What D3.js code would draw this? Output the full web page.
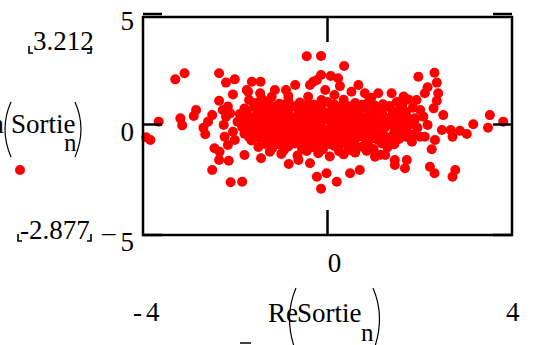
<!DOCTYPE html>
<html>
<head>
<meta charset="utf-8">
<script src="https://cdn.jsdelivr.net/npm/d3@7"></script>
<style>
body { margin: 0; background: #fff; }
</style>
</head>
<body>
<svg width="533" height="345" font-family="Liberation Serif"></svg>
<script>
// data: Re(Sortie_n) and Im(Sortie_n)
var reSortie = [
    -3.30, -3.10, -2.35, -2.20, -2.01, -2.05, -2.35, -3.66, -3.93, -3.84,
    -3.19, -3.15, -2.90, -2.85, -2.50, -2.59, -2.69, -2.65, -2.27, -2.16,
    -2.20, -2.25, -2.11, -2.23, -2.16, -2.05, -2.01, -2.45, -2.34, -2.35,
    -2.14, -2.50, -2.10, -1.85, -0.14, 0.20, -0.23, -0.02, -0.84, -1.44,
    -1.80, -0.45, -0.14, -1.64, -1.45, -0.70, -1.75, -1.70, -1.14, -0.90,
    -0.38, -0.23, -0.14, 0.07, -0.05, -1.43, -1.21, 0.36, 0.23, 0.27,
    0.67, 0.52, 0.81, 1.10, 1.39, 1.61, 1.97, 1.93, 2.32, 2.37,
    2.17, 2.11, 2.40, 2.37, 2.30, 2.01, 2.08, 2.17, 2.51, 3.52,
    3.48, 3.81, 3.16, 3.02, 2.87, 2.71, 2.67, 2.48, 2.33, 2.26,
    2.01, 2.11, 2.22, 2.32, 2.71, 2.77, -1.46, -1.72, -0.31, -0.42,
    -0.13, -1.25, -0.63, -0.38, 0.49, 0.70, 1.46, 1.72, 1.68, 1.46,
    1.03, 0.89, 1.25, 1.83,
    -1.55, -1.30, -1.05, -0.85, -0.60, -0.30, 0.00, 0.35, 0.60, 0.90, 1.20, 1.50, 1.75,
    -1.80, -1.60, -1.35, -1.15, -0.95, -0.70, -0.50, -0.25, 0.10, 0.30, 0.55, 0.80, 1.05, 1.30, 1.55, 1.85,
    -1.90, -1.70, -1.45, -1.25, -1.00, -0.80, -0.60, -0.40, -0.15, 0.05, 0.25, 0.45, 0.70, 0.95, 1.15, 1.40, 1.65, 1.90,
    -1.95, -1.75, -1.50, -1.30, -1.10, -0.90, -0.65, -0.45, -0.20, 0.00, 0.20, 0.40, 0.65, 0.85, 1.10, 1.35, 1.60, 1.80,
    -1.85, -1.60, -1.40, -1.20, -0.95, -0.75, -0.55, -0.30, -0.10, 0.15, 0.35, 0.55, 0.80, 1.00, 1.25, 1.50, 1.70, 1.95,
    -1.80, -1.55, -1.35, -1.10, -0.90, -0.70, -0.45, -0.25, 0.00, 0.25, 0.45, 0.70, 0.90, 1.15, 1.40, 1.60, 1.85,
    -1.65, -1.40, -1.20, -0.95, -0.75, -0.50, -0.30, -0.05, 0.20, 0.40, 0.60, 0.85, 1.10, 1.35, 1.55,
    -1.50, -1.20, -0.85, -0.55, -0.30, -0.10, 0.15, 0.45, 0.75, 1.00, 1.30,
    -1.00, -0.65, -0.20, 0.05, 0.35, 0.60, 1.15,
    -0.85, 0.15, 0.95, 1.65,
    -1.45, -1.20, -0.95, -0.72, -0.45, -0.15, 0.15, 0.45, 0.75, 1.02, 1.35, 1.62,
    -1.75, -1.52, -1.28, -1.08, -0.85, -0.62, -0.35, -0.08, 0.18, 0.40, 0.65, 0.90, 1.18, 1.42, 1.70,
    -1.82, -1.58, -1.38, -1.15, -0.92, -0.72, -0.52, -0.30, -0.05, 0.12, 0.32, 0.55, 0.78, 1.02, 1.25, 1.50, 1.75,
    -1.70, -1.48, -1.25, -1.02, -0.82, -0.60, -0.38, -0.15, 0.08, 0.28, 0.48, 0.72, 0.92, 1.18, 1.42, 1.62, 1.88,
    -1.72, -1.50, -1.28, -1.05, -0.82, -0.62, -0.40, -0.18, 0.08, 0.30, 0.52, 0.75, 0.98, 1.20, 1.45, 1.72,
    -1.70, -1.48, -1.25, -1.02, -0.80, -0.58, -0.35, -0.12, 0.12, 0.35, 0.55, 0.78, 1.00, 1.25, 1.48, 1.72,
    -1.35, -1.05, -0.70, -0.42, -0.18, 0.05, 0.30, 0.58, 0.88, 1.18, 1.45,
    -0.95, -0.45, -0.15, 0.25, 0.52, 0.85
];
var imSortie = [
    2.14, 2.42, 2.42, 1.99, 2.14, 1.45, 1.16, 0.20, -0.52, -0.64,
    0.35, 0.03, 0.46, 0.73, 0.50, 0.20, -0.08, -0.38, 0.73, 0.89,
    0.43, 0.05, 0.58, -0.49, -0.87, -0.26, -0.64, -1.02, -1.18, -1.56,
    -1.59, -2.02, -2.58, -2.56, -2.877, -2.56, -2.33, -2.17, -1.74, -1.48,
    -1.33, 3.20, 3.212, 2.03, 2.03, 1.88, 1.65, 1.19, 1.65, 1.65,
    1.88, 2.11, 2.34, 2.29, 1.65, 1.27, 1.34, 2.75, 2.19, 1.83,
    1.88, 1.57, 1.50, 1.50, 1.50, 1.04, 2.26, 1.19, 2.44, 1.99,
    1.78, 1.50, 1.50, 1.16, 0.81, 0.73, 0.43, 0.05, 0.50, 0.50,
    -0.08, 0.20, 0.08, -0.37, -0.22, -0.49, -0.18, -0.18, -0.64, -1.07,
    -0.49, -0.49, -1.87, -2.17, -2.33, -2.02, 1.50, 1.57, 2.03, 1.34,
    1.19, -1.18, -1.56, -1.71, -2.17, -2.02, -1.56, -1.56, -1.94, -1.79,
    -1.41, -1.10, -1.33, -0.72,
    1.05, 1.12, 1.02, 1.15, 1.08, 0.98, 1.10, 1.20, 1.05, 1.14, 1.00, 1.10, 1.22,
    0.80, 0.88, 0.76, 0.86, 0.79, 0.90, 0.74, 0.84, 0.78, 0.92, 0.72, 0.85, 0.78, 0.88, 0.70, 0.84,
    0.55, 0.45, 0.60, 0.48, 0.56, 0.42, 0.58, 0.50, 0.62, 0.44, 0.54, 0.60, 0.46, 0.57, 0.40, 0.52, 0.58, 0.35,
    0.20, 0.28, 0.15, 0.26, 0.18, 0.30, 0.12, 0.24, 0.20, 0.30, 0.10, 0.26, 0.18, 0.28, 0.14, 0.24, 0.16, 0.25,
    -0.05, -0.12, -0.02, -0.10, -0.06, -0.15, 0.00, -0.08, -0.14, -0.04, -0.12, -0.02, -0.10, -0.16, -0.04, -0.10, 0.02, -0.08,
    -0.35, -0.42, -0.30, -0.40, -0.33, -0.45, -0.36, -0.28, -0.40, -0.34, -0.44, -0.30, -0.42, -0.36, -0.46, -0.32, -0.40,
    -0.66, -0.72, -0.62, -0.74, -0.64, -0.70, -0.60, -0.76, -0.66, -0.72, -0.62, -0.70, -0.64, -0.74, -0.60,
    -0.96, -1.02, -0.94, -1.05, -0.98, -1.08, -0.92, -1.00, -0.95, -1.06, -0.98,
    -1.28, -1.35, -1.25, -1.40, -1.30, -1.22, -1.32,
    1.38, 1.42, 1.30, 1.35,
    0.95, 0.92, 0.98, 0.90, 0.96, 0.93, 0.99, 0.91, 0.97, 0.94, 0.92, 0.96,
    0.66, 0.62, 0.68, 0.64, 0.70, 0.63, 0.67, 0.65, 0.69, 0.61, 0.66, 0.68, 0.62, 0.67, 0.64,
    0.37, 0.34, 0.40, 0.36, 0.33, 0.39, 0.35, 0.41, 0.37, 0.32, 0.38, 0.36, 0.40, 0.34, 0.37, 0.39, 0.35,
    0.08, 0.05, 0.10, 0.06, 0.09, 0.04, 0.11, 0.07, 0.05, 0.10, 0.06, 0.08, 0.04, 0.09, 0.06, 0.10, 0.07,
    -0.22, -0.25, -0.20, -0.24, -0.21, -0.26, -0.19, -0.23, -0.25, -0.20, -0.24, -0.22, -0.26, -0.21, -0.23, -0.20,
    -0.52, -0.55, -0.50, -0.54, -0.51, -0.56, -0.49, -0.53, -0.55, -0.50, -0.54, -0.52, -0.56, -0.51, -0.53, -0.50,
    -0.82, -0.85, -0.80, -0.86, -0.81, -0.84, -0.79, -0.83, -0.86, -0.80, -0.84,
    -1.12, -1.15, -1.10, -1.16, -1.12, -1.14
];

// axis ticks and labels
var yTickValues = [5, 0, -5];
var yTickLabels = ["5", "0", "5"];
var xTickValues = [0];
var xLimitLabels = ["-4", "4"];
var yMaxLabel = "3.212";
var yMinLabel = "-2.877";

var svg = d3.select("svg");

// scales
var x = d3.scaleLinear().domain([-4, 4]).range([143, 512]);
var y = d3.scaleLinear().domain([-5, 5]).range([235, 17]);
var yTick = d3.scaleLinear().domain([-5, 5]).range([235, 14]);

// text first, so the font is picked before the marks
var labels = svg.append("g");
function label(sx, sy, s, size, anchor){
    return labels.append("text")
        .attr("x", sx).attr("y", sy)
        .attr("font-family", "Liberation Serif")
        .style("font-family", "Times New Roman")
        .attr("font-size", size || 27)
        .attr("text-anchor", anchor || "start")
        .text(s);
}

// points
svg.append("g").selectAll("circle")
    .data(d3.range(reSortie.length))
    .enter()
    .append("circle")
    .attr("cx", function(i){ return x(reSortie[i]); })
    .attr("cy", function(i){ return y(imSortie[i]); })
    .attr("r", 5)
    .attr("fill", "#ff0000");

// frame
svg.append("rect")
    .attr("x", x(-4)).attr("y", y(5))
    .attr("width", x(4) - x(-4)).attr("height", y(-5) - y(5))
    .attr("fill", "none").attr("stroke", "#000").attr("stroke-width", 2.5);

// y ticks, on both sides
var ticks = svg.append("g").attr("stroke", "#000").attr("stroke-width", 2.5);
yTickValues.forEach(function(v){
    ticks.append("line").attr("x1", x(-4)).attr("x2", x(-4) + 19)
        .attr("y1", yTick(v)).attr("y2", yTick(v));
    ticks.append("line").attr("x1", x(4) - 19).attr("x2", x(4))
        .attr("y1", yTick(v)).attr("y2", yTick(v));
});
// x ticks, top and bottom
xTickValues.forEach(function(v){
    ticks.append("line").attr("x1", x(v)).attr("x2", x(v))
        .attr("y1", y(5)).attr("y2", y(5) + 25);
    ticks.append("line").attr("x1", x(v)).attr("x2", x(v))
        .attr("y1", y(-5) - 25).attr("y2", y(-5));
});

// y tick labels
yTickValues.forEach(function(v, i){
    label(134, yTick(v) + 16, yTickLabels[i], 27, "end");
});
label(102, 241, "\u2013", 27);

// x tick labels
xTickValues.forEach(function(v){
    label(x(v) + 7, 272, String(v), 27, "middle");
});
label(133, 321, "-", 27);
label(146, 321, "4", 27);
label(506, 321, xLimitLabels[1], 27);

// data limit placeholders
function corners(x0, x1, yb){
    svg.append("path")
        .attr("d", "M" + x0 + "," + (yb - 7) + "V" + yb + "H" + (x0 + 4)
            + "M" + x1 + "," + (yb - 7) + "V" + yb + "H" + (x1 - 4))
        .attr("fill", "none").attr("stroke", "#000").attr("stroke-width", 1.6);
}
label(33, 50, yMaxLabel, 27);
corners(29, 91, 53);
label(20, 239, yMinLabel, 27);
corners(18, 91, 241);

// y axis title: Im(Sortie_n)
label(4, 133, "Im", 27, "end");
label(11, 133, "Sortie", 27);
label(64, 151, "n", 25);
svg.append("path")
    .attr("d", "M11,102 Q-1,129 11,157 M75,102 Q87,129 75,157")
    .attr("fill", "none").attr("stroke", "#000").attr("stroke-width", 1.2);

// trace marker
svg.append("circle").attr("cx", 20).attr("cy", 170).attr("r", 5).attr("fill", "#ff0000");

// x axis title: Re(Sortie_n)
label(268, 322, "Re", 27);
label(297, 322, "Sortie", 27);
label(361, 341, "n", 25);
svg.append("path")
    .attr("d", "M296,288 Q283,318 296,352 M373,288 Q386,318 373,352")
    .attr("fill", "none").attr("stroke", "#000").attr("stroke-width", 1.2);
svg.append("line")
    .attr("x1", 240).attr("x2", 251).attr("y1", 343).attr("y2", 343)
    .attr("stroke", "#000").attr("stroke-width", 1.5);
</script>
</body>
</html>
